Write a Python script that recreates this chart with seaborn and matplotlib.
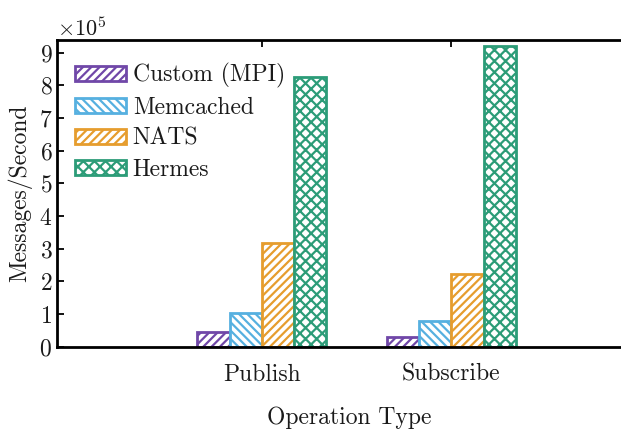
import matplotlib
matplotlib.use("Agg")
import matplotlib.pyplot as plt
import seaborn as sns
import pandas as pd
from matplotlib.ticker import ScalarFormatter, MultipleLocator

# values (messages per second)
operations = ["Publish", "Subscribe"]
systems = ["Custom (MPI)", "Memcached", "NATS", "Hermes"]
custom_mpi = [0.46e5, 0.29e5]
memcached = [1.05e5, 0.80e5]
nats = [3.18e5, 2.22e5]
hermes = [8.25e5, 9.20e5]

colors = ["#7047a8", "#56b0e0", "#e69d2e", "#2c9c78"]
hatches = ["////", "\\\\\\\\", "////", "xxx"]

rows = []
for name, vals in zip(systems, [custom_mpi, memcached, nats, hermes]):
    for op, v in zip(operations, vals):
        rows.append({"Operation Type": op, "System": name, "Messages/Second": v})
df = pd.DataFrame(rows)

sns.set_style("ticks")
plt.rcParams["font.family"] = ["cmr10", "DejaVu Serif"]
plt.rcParams["mathtext.fontset"] = "cm"
plt.rcParams["axes.formatter.use_mathtext"] = True
plt.rcParams["font.size"] = 17
plt.rcParams["hatch.linewidth"] = 1.6
plt.rcParams["text.color"] = "#1a1a1a"
plt.rcParams["axes.labelcolor"] = "#1a1a1a"
plt.rcParams["xtick.color"] = "black"
plt.rcParams["ytick.color"] = "black"
plt.rcParams["xtick.labelcolor"] = "#1a1a1a"
plt.rcParams["ytick.labelcolor"] = "#1a1a1a"
plt.rcParams["axes.edgecolor"] = "black"

fig = plt.figure(figsize=(6.21, 4.32), dpi=100)
ax = fig.add_axes([0.092, 0.197, 0.94, 0.71])

sns.barplot(data=df, x="Operation Type", y="Messages/Second", hue="System",
            hue_order=systems, palette=colors, width=0.68, ax=ax, legend=False)

for container, color, hatch in zip(ax.containers, colors, hatches):
    for bar in container.patches:
        bar.set_facecolor("white")
        bar.set_edgecolor(color)
        bar.set_hatch(hatch)
        bar.set_linewidth(2)

ax.set_xlim(-1.08, 2.0)
ax.set_ylim(0, 9.38e5)
ax.yaxis.set_major_locator(MultipleLocator(1e5))
fmt = ScalarFormatter(useMathText=True)
fmt.set_powerlimits((0, 0))
ax.yaxis.set_major_formatter(fmt)
ax.yaxis.get_offset_text().set_fontsize(16)

ax.tick_params(direction="in", top=True, length=5, width=1.3, labelsize=17)
ax.tick_params(axis="x", pad=12)
for s in ax.spines.values():
    s.set_linewidth(2)

ax.set_xlabel("Operation Type", fontsize=17, labelpad=15)
ax.set_ylabel("Messages/Second", fontsize=17, labelpad=5)

ax.legend(ax.containers, systems, loc="upper left", frameon=False,
          fontsize=17, handlelength=2.15, handleheight=0.6,
          labelspacing=0.37, handletextpad=0.3,
          bbox_to_anchor=(-0.006, 0.995))

fig.savefig("out.png", dpi=100)
